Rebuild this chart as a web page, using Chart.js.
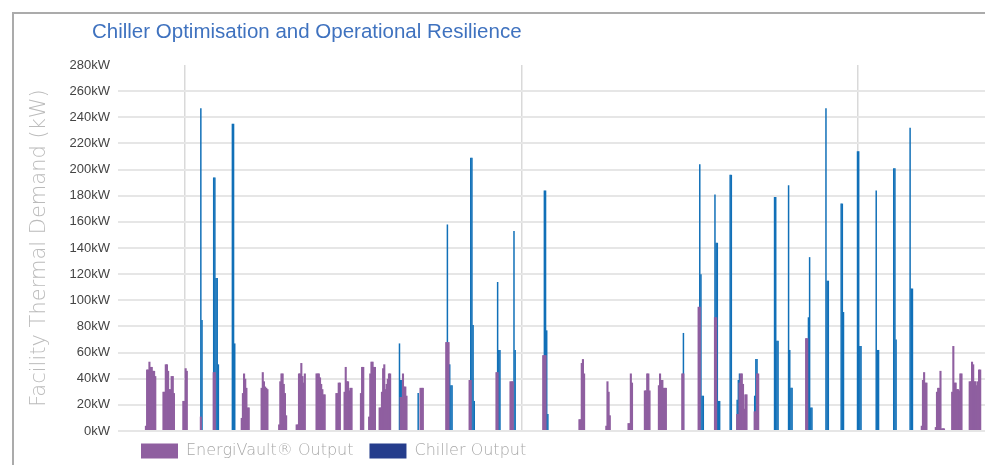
<!DOCTYPE html>
<html>
<head>
<meta charset="utf-8">
<title>Chiller Optimisation and Operational Resilience</title>
<script src="https://cdn.jsdelivr.net/npm/chart.js@4.4.1/dist/chart.umd.min.js"></script>
<style>
  html, body { margin: 0; padding: 0; background: #fff; overflow: hidden; }
  .card { position: absolute; left: 12px; top: 12px; width: 1100px; height: 600px; box-sizing: border-box; border-left: 2px solid #ababab; border-top: 2px solid #ababab; }
  #chart { position: absolute; left: 0; top: 0; }
</style>
</head>
<body>
<div class="card"></div>
<canvas id="chart" width="985" height="473"></canvas>
<script>
// readings every 5 minutes, times in minutes from the first midnight
const STEP_MIN = 5
const viewStartMin = -287
const viewEndMin = 3423
const midnights = [0, 1440, 2880]

const seriesNames = ['EnergiVault® Output', 'Chiller Output']
const barColors = ['#8f5fa0', '#1170b8']
const legendColors = ['#8f5fa0', '#253d8c']

const kwMax = 280
const kwStep = 20

// EnergiVault discharge blocks: start time and the kW of each 5-minute reading
const vaultStartMin = [
  -170, -95, -10, 65, 120, 240, 325, 400, 475, 560, 645, 680, 750, 785, 830,
  920, 1005, 1115, 1215, 1330, 1390, 1530, 1685, 1800, 1895, 1965, 2025,
  2125, 2195, 2265, 2360, 2435, 2655, 3150, 3210, 3280, 3355
]
const vaultKw = [
  [4, 47, 47, 53, 49, 49, 46, 46, 42],
  [30, 30, 51, 51, 46, 32, 32, 42, 42, 29],
  [23, 23, 48, 46],
  [11],
  [45, 45],
  [10, 29, 44, 40, 33, 18, 18],
  [33, 45, 38, 34, 33, 32],
  [5, 38, 44, 44, 36, 29, 12],
  [5, 5, 44, 44, 52, 42, 37, 44],
  [44, 44, 44, 41, 36, 32, 28, 28],
  [29, 29, 37, 37],
  [30, 49, 38, 38, 31, 33, 33],
  [29, 49, 49],
  [11, 44, 53, 53, 49, 49],
  [18, 18, 30, 48, 51, 32, 36, 40, 44, 44],
  [26, 26, 44, 34, 34, 27],
  [33, 33, 33],
  [68, 68, 68],
  [39, 39],
  [45, 45],
  [38, 38, 38],
  [58, 58, 58],
  [9, 9, 52, 55, 44],
  [4, 38, 30, 12],
  [6, 6, 44, 37],
  [31, 31, 44, 44, 31],
  [35, 44, 39, 39, 33, 33, 33],
  [44, 44],
  [95, 95],
  [87, 87],
  [13, 13, 37, 44, 44, 36, 17, 28, 28],
  [15, 15, 44, 44],
  [71, 71],
  [4, 39, 45, 37, 37],
  [3, 30, 33, 33, 46, 2, 2, 2],
  [30, 65, 37, 37, 32, 32, 31, 44, 44],
  [38, 38, 53, 51, 38, 38, 35, 38, 47, 47]
]

// chiller starts
const chillerStartMin = [
  65, 120, 200, 915, 995, 1120, 1220, 1335, 1405, 1535, 2130, 2200, 2265,
  2330, 2360, 2435, 2520, 2580, 2665, 2740, 2805, 2875, 2955, 3030, 3100
]
const chillerKw = [
  [247, 85],
  [194, 194, 117, 117, 51],
  [235, 235, 67],
  [67, 39, 39],
  [29],
  [158, 51, 51, 35, 35],
  [209, 209, 81, 23],
  [114, 62, 62],
  [153, 62],
  [184, 184, 77, 13],
  [75],
  [204, 120, 27, 27],
  [181, 144, 144, 23, 23],
  [196, 196],
  [24, 39, 44],
  [27, 55, 55],
  [179, 179, 69, 69],
  [188, 62, 33, 33],
  [87, 133, 18, 18],
  [247, 115, 115],
  [174, 174, 91],
  [214, 214, 65, 65],
  [184, 62, 62],
  [201, 201, 70],
  [232, 109, 109]
]

const toPoints = (starts, runs) => starts.flatMap((start, b) =>
  runs[b].map((kw, i) => ({ x: start + i * STEP_MIN + STEP_MIN / 2, y: kw })))

// the card puts the title and legend further in than the axis column
const placeTitleAndLegend = {
  id: 'placeTitleAndLegend',
  afterLayout (chart) {
    const move = (box, dx, dy) => {
      box.left += dx; box.right += dx
      box.top += dy; box.bottom += dy
    }
    move(chart.titleBlock, 92 - chart.titleBlock.left, 0)
    const legend = chart.legend
    const labels = legend.options.labels
    const itemHeight = Math.max(labels.font.size, labels.boxHeight)
    move(legend, 125 - legend.left, 451 - itemHeight / 2 - labels.padding - legend.top)
  }
}

Chart.defaults.font.family = '"Liberation Sans", Arial, sans-serif'

new Chart(document.getElementById('chart'), {
  type: 'bar',
  data: {
    datasets: [{
      label: seriesNames[0],
      data: toPoints(vaultStartMin, vaultKw),
      backgroundColor: barColors[0],
      barThickness: 2.1
    }, {
      label: seriesNames[1],
      data: toPoints(chillerStartMin, chillerKw),
      backgroundColor: barColors[1],
      barThickness: 1.5
    }]
  },
  plugins: [placeTitleAndLegend],
  options: {
    responsive: false,
    animation: false,
    layout: { padding: 0 },
    datasets: {
      bar: { grouped: false, borderWidth: 0, inflateAmount: 0 }
    },
    plugins: {
      title: {
        display: true,
        text: 'Chiller Optimisation and Operational Resilience',
        align: 'start',
        color: '#3f72bf',
        font: { size: 20.5, weight: 'normal' },
        padding: { top: 20, bottom: 20.4 }
      },
      legend: {
        position: 'bottom',
        align: 'start',
        labels: {
          boxWidth: 37,
          boxHeight: 15,
          padding: 16,
          color: '#a8a8a8',
          font: { family: '"DejaVu Sans"', size: 16, weight: 200 },
          generateLabels: chart => Chart.defaults.plugins.legend.labels.generateLabels(chart)
            .map((item, i) => ({ ...item, fillStyle: legendColors[i], strokeStyle: legendColors[i], lineWidth: 0 }))
        }
      },
      tooltip: { enabled: false }
    },
    scales: {
      x: {
        type: 'linear',
        min: viewStartMin,
        max: viewEndMin,
        offset: false,
        afterBuildTicks: axis => { axis.ticks = midnights.map(value => ({ value })) },
        ticks: { display: false },
        grid: { offset: false, drawTicks: false, color: '#d9d9d9', lineWidth: 1.5 },
        border: { display: false }
      },
      y: {
        min: 0,
        max: kwMax,
        afterFit: axis => { axis.width = 118 },
        ticks: {
          stepSize: kwStep,
          padding: 8,
          color: '#444',
          font: { size: 13 },
          callback: value => value + 'kW'
        },
        grid: {
          drawTicks: false,
          lineWidth: 2,
          color: ctx => ctx.tick.value === kwMax ? 'rgba(0,0,0,0)' : '#e6e6e6'
        },
        border: { display: false },
        title: {
          display: true,
          text: 'Facility Thermal Demand (kW)',
          color: '#bbbbbb',
          font: { family: '"DejaVu Sans"', size: 21, weight: 200 },
          padding: { top: 27, bottom: 0 }
        }
      }
    }
  }
})
</script>
</body>
</html>
